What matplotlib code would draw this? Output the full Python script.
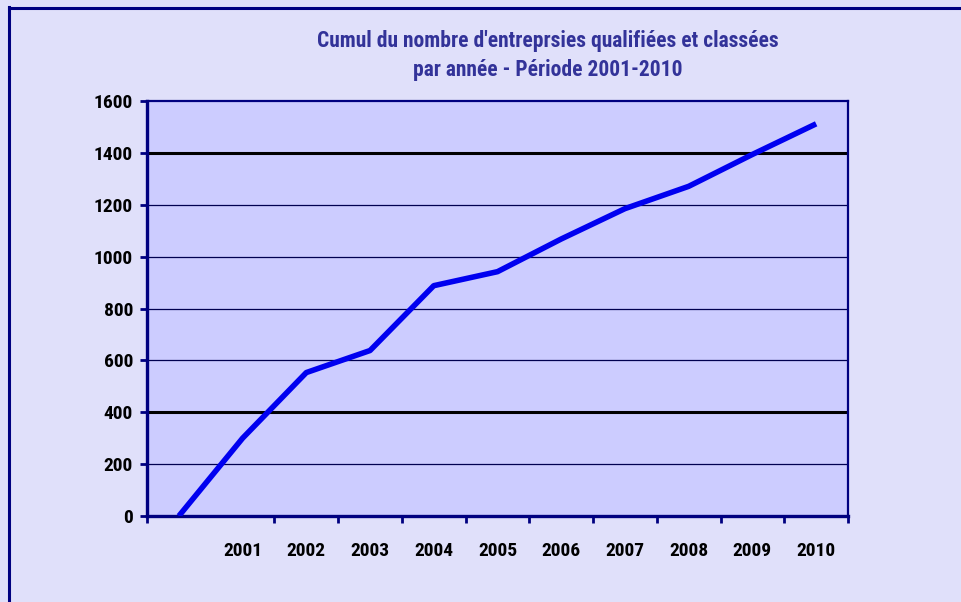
import matplotlib
matplotlib.use("Agg")
import matplotlib.pyplot as plt
from matplotlib.lines import Line2D

plt.rcParams['font.family'] = ['Roboto Condensed', 'Liberation Sans', 'DejaVu Sans']

# Data (cumulative count per year)
years = ['', '2001', '2002', '2003', '2004', '2005', '2006', '2007', '2008', '2009', '2010']
cumul = [0, 300, 553, 638, 888, 942, 1068, 1185, 1271, 1394, 1512]
y_ticks = [0, 200, 400, 600, 800, 1000, 1200, 1400, 1600]

navy = '#000080'
fig_bg = '#E0E0FA'
plot_bg = '#CCCCFF'

W, H = 961, 602
fig = plt.figure(figsize=(W / 100, H / 100), dpi=100, facecolor=fig_bg)
ax = fig.add_axes([147 / W, (H - 516) / H, (848 - 147) / W, (516 - 101) / H])
ax.set_facecolor(plot_bg)

# gridlines (400 and 1400 come out heavier in the original)
for v in y_ticks[1:-1]:
    if v in (400, 1400):
        ax.axhline(v, color='black', lw=2.2, zorder=1)
    else:
        ax.axhline(v, color='#000050', lw=0.9, zorder=1)

x = list(range(len(cumul)))
ax.plot(x, cumul, color='#0000F0', lw=4, solid_capstyle='butt', zorder=3)

ax.set_xlim(-0.5, len(cumul) - 0.5)
ax.set_ylim(0, 1600)

# y axis
ax.set_yticks(y_ticks)
ax.set_yticklabels([str(v) for v in y_ticks], fontsize=14, fontweight='bold')
ax.tick_params(axis='y', direction='out', length=5, width=2, color=navy, pad=5)

# x axis: tick marks on the category boundaries, labels in the middle
bounds = [b - 0.5 for b in range(len(cumul) + 1) if b != 1]
ax.set_xticks(bounds)
ax.set_xticklabels([''] * len(bounds))
ax.tick_params(axis='x', which='major', direction='out', length=5, width=2, color=navy)
ax.set_xticks(x, minor=True)
ax.set_xticklabels(years, minor=True, fontsize=14, fontweight='bold')
ax.tick_params(axis='x', which='minor', length=0, pad=19)

for side in ['left', 'bottom']:
    ax.spines[side].set_linewidth(2.4)
    ax.spines[side].set_color(navy)
for side in ['top', 'right']:
    ax.spines[side].set_linewidth(1.6)
    ax.spines[side].set_color(navy)

fig.text(548 / W, 1 - 41 / H, "Cumul du nombre d'entreprsies qualifiées et classées",
         ha='center', va='center', fontsize=15.5, fontweight='bold', color='#333399')
fig.text(548 / W, 1 - 70 / H, "par année - Période 2001-2010",
         ha='center', va='center', fontsize=15.5, fontweight='bold', color='#333399')

# outer chart frame
fig.add_artist(Line2D([8.5 / W, 8.5 / W], [0, 1 - 7 / H], color=navy, lw=2.2, transform=fig.transFigure))
fig.add_artist(Line2D([8.5 / W, 1], [1 - 7.5 / H, 1 - 7.5 / H], color=navy, lw=2.2, transform=fig.transFigure))

fig.savefig('out.png', dpi=100, facecolor=fig_bg)
